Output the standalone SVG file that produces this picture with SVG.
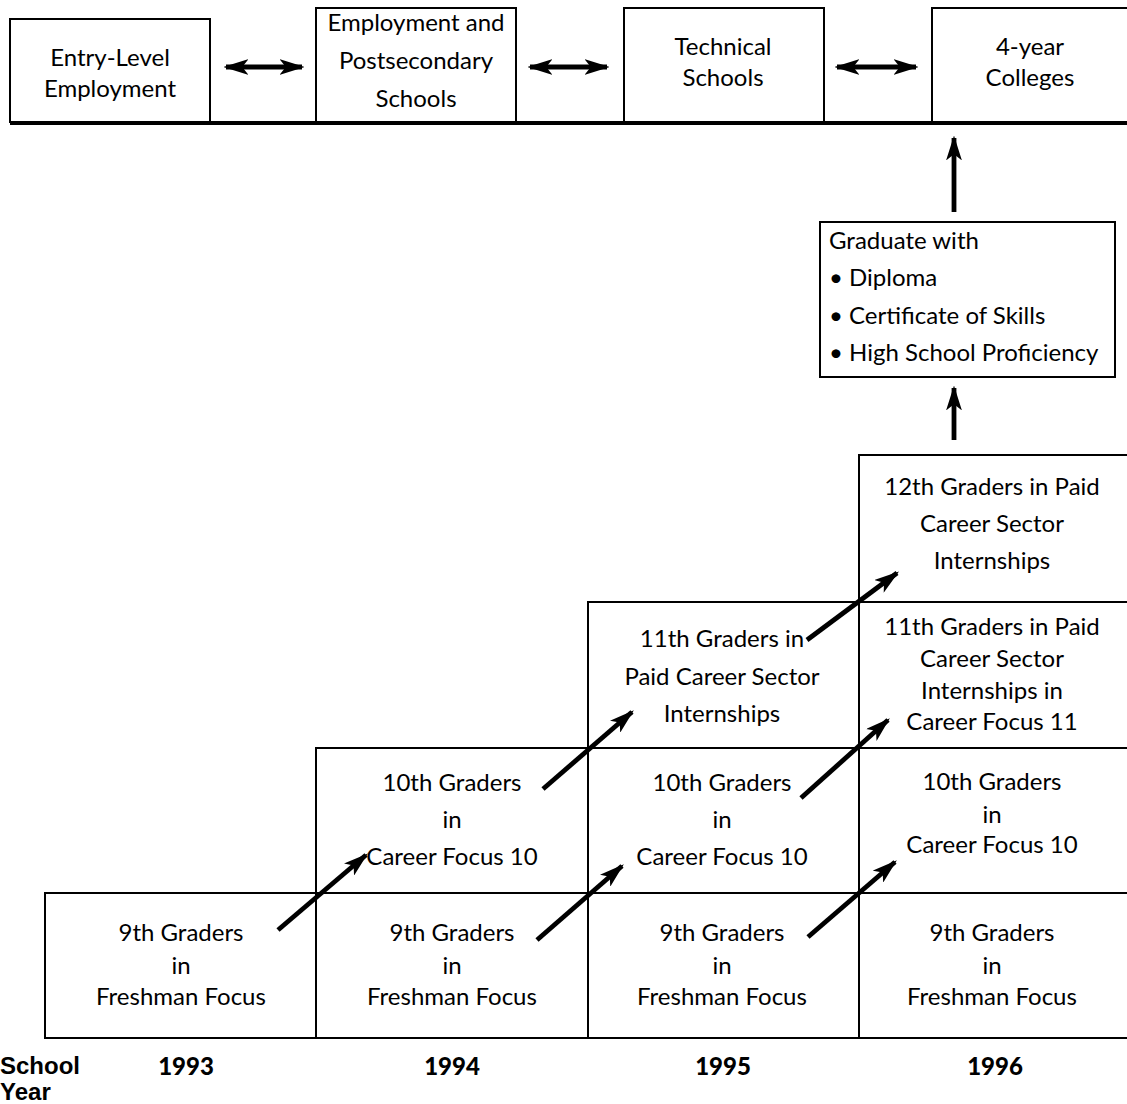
<svg xmlns="http://www.w3.org/2000/svg" width="1127" height="1104" viewBox="0 0 1127 1104">
<style>
.box{fill:#fff;stroke:#000;stroke-width:2}
.t{font-family:Lato,"Open Sans","Liberation Sans",sans-serif;font-size:24px;fill:#000;text-anchor:middle}
.tl{font-family:Lato,"Open Sans","Liberation Sans",sans-serif;font-size:24px;fill:#000}
.yr{font-family:Lato,"Liberation Sans",sans-serif;font-size:24px;font-weight:900;fill:#000;text-anchor:middle}
.sy{font-family:"Liberation Sans",Arial,sans-serif;font-size:24px;font-weight:bold;fill:#000}
.ar{stroke:#000;stroke-width:4.8;fill:none}
</style>
<defs>
<marker id="ah" viewBox="0 0 10 10" refX="9" refY="5" markerWidth="5.2" markerHeight="3.3" orient="auto-start-reverse" preserveAspectRatio="none">
<path d="M0,0 L10,5 L0,10 L2.5,5 z" fill="#000"/>
</marker>
</defs>

<g id="top-bar"><line x1="10" y1="123" x2="1127" y2="123" stroke="#000" stroke-width="4"/></g>

<g id="entry-level">
<rect class="box" x="10" y="19" width="200" height="103"/>
<text class="t" x="110" y="66">Entry-Level</text>
<text class="t" x="110" y="97">Employment</text>
</g>
<g id="employment-post">
<rect class="box" x="316" y="8" width="200" height="114"/>
<text class="t" x="416" y="31">Employment and</text>
<text class="t" x="416" y="69">Postsecondary</text>
<text class="t" x="416" y="107">Schools</text>
</g>
<g id="technical">
<rect class="box" x="624" y="8" width="200" height="114"/>
<text class="t" x="723" y="55">Technical</text>
<text class="t" x="723" y="86">Schools</text>
</g>
<g id="colleges">
<rect class="box" x="932" y="8" width="200" height="114"/>
<text class="t" x="1030" y="55">4-year</text>
<text class="t" x="1030" y="86">Colleges</text>
</g>

<g id="graduate">
<rect class="box" x="820" y="222" width="295" height="155"/>
<text class="tl" x="829" y="249">Graduate with</text>
<text class="tl" x="829" y="286">• Diploma</text>
<text class="tl" x="829" y="324">• Certificate of Skills</text>
<text class="tl" x="829" y="361">• High School Proficiency</text>
</g>

<g id="g12-1996">
<rect class="box" x="859" y="455" width="270" height="147"/>
<text class="t" x="992" y="495">12th Graders in Paid</text>
<text class="t" x="992" y="532">Career Sector</text>
<text class="t" x="992" y="569">Internships</text>
</g>
<g id="g11-1995">
<rect class="box" x="588" y="602" width="271" height="146"/>
<text class="t" x="722" y="647">11th Graders in</text>
<text class="t" x="722" y="685">Paid Career Sector</text>
<text class="t" x="722" y="722">Internships</text>
</g>
<g id="g11-1996">
<rect class="box" x="859" y="602" width="270" height="146"/>
<text class="t" x="992" y="635">11th Graders in Paid</text>
<text class="t" x="992" y="667">Career Sector</text>
<text class="t" x="992" y="699">Internships in</text>
<text class="t" x="992" y="730">Career Focus 11</text>
</g>
<g id="g10-1994">
<rect class="box" x="316" y="748" width="272" height="145"/>
<text class="t" x="452" y="791">10th Graders</text>
<text class="t" x="452" y="828">in</text>
<text class="t" x="452" y="865">Career Focus 10</text>
</g>
<g id="g10-1995">
<rect class="box" x="588" y="748" width="271" height="145"/>
<text class="t" x="722" y="791">10th Graders</text>
<text class="t" x="722" y="828">in</text>
<text class="t" x="722" y="865">Career Focus 10</text>
</g>
<g id="g10-1996">
<rect class="box" x="859" y="748" width="270" height="145"/>
<text class="t" x="992" y="790">10th Graders</text>
<text class="t" x="992" y="823">in</text>
<text class="t" x="992" y="853">Career Focus 10</text>
</g>
<g id="g9-1993">
<rect class="box" x="45" y="893" width="271" height="145"/>
<text class="t" x="181" y="941">9th Graders</text>
<text class="t" x="181" y="974">in</text>
<text class="t" x="181" y="1005">Freshman Focus</text>
</g>
<g id="g9-1994">
<rect class="box" x="316" y="893" width="272" height="145"/>
<text class="t" x="452" y="941">9th Graders</text>
<text class="t" x="452" y="974">in</text>
<text class="t" x="452" y="1005">Freshman Focus</text>
</g>
<g id="g9-1995">
<rect class="box" x="588" y="893" width="271" height="145"/>
<text class="t" x="722" y="941">9th Graders</text>
<text class="t" x="722" y="974">in</text>
<text class="t" x="722" y="1005">Freshman Focus</text>
</g>
<g id="g9-1996">
<rect class="box" x="859" y="893" width="270" height="145"/>
<text class="t" x="992" y="941">9th Graders</text>
<text class="t" x="992" y="974">in</text>
<text class="t" x="992" y="1005">Freshman Focus</text>
</g>

<g id="axis-labels">
<text class="sy" x="0" y="1074">School</text>
<text class="sy" x="0" y="1100">Year</text>
<text class="yr" x="186" y="1075">1993</text>
<text class="yr" x="452" y="1075">1994</text>
<text class="yr" x="723" y="1075">1995</text>
<text class="yr" x="995" y="1075">1996</text>
</g>

<g id="connectors">
<line class="ar" x1="226" y1="67" x2="302" y2="67" marker-start="url(#ah)" marker-end="url(#ah)"/>
<line class="ar" x1="530" y1="67" x2="607" y2="67" marker-start="url(#ah)" marker-end="url(#ah)"/>
<line class="ar" x1="837" y1="67" x2="916" y2="67" marker-start="url(#ah)" marker-end="url(#ah)"/>
<line class="ar" x1="954" y1="212" x2="954" y2="138" marker-end="url(#ah)"/>
<line class="ar" x1="954" y1="440" x2="954" y2="388" marker-end="url(#ah)"/>
<line class="ar" x1="278" y1="930" x2="366" y2="855" marker-end="url(#ah)"/>
<line class="ar" x1="537" y1="940" x2="622" y2="866" marker-end="url(#ah)"/>
<line class="ar" x1="808" y1="937" x2="895" y2="862" marker-end="url(#ah)"/>
<line class="ar" x1="543" y1="789" x2="632" y2="712" marker-end="url(#ah)"/>
<line class="ar" x1="801" y1="798" x2="888" y2="720" marker-end="url(#ah)"/>
<line class="ar" x1="807" y1="640" x2="897" y2="573" marker-end="url(#ah)"/>
</g>
</svg>
